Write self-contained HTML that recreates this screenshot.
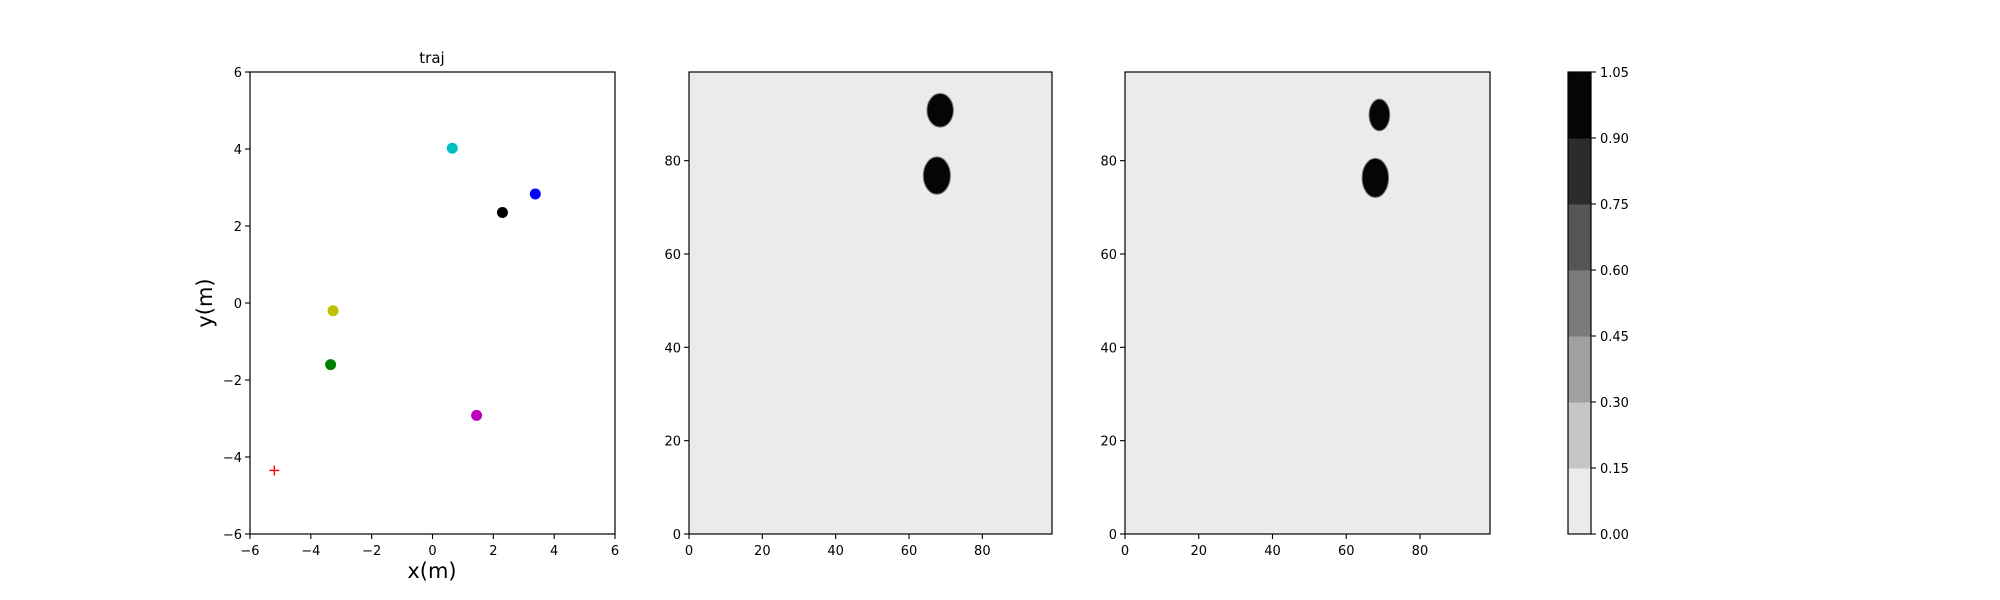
<!DOCTYPE html>
<html><head><meta charset="utf-8"><style>
html,body{margin:0;padding:0;background:#fff;}
svg{display:block;font-family:"DejaVu Sans","Liberation Sans",sans-serif;}
</style></head><body>
<svg id="fig" width="2000" height="600" viewBox="0 0 2000 600" xmlns="http://www.w3.org/2000/svg"></svg>
<script>
// scatter data
const ptX = [0.65, 3.38, 2.3, -3.27, -3.35, 1.45];
const ptY = [4.02, 2.83, 2.35, -0.2, -1.6, -2.92];
const ptColors = ['#00bfbf','#0000ff','#000000','#bfbf00','#008000','#bf00bf'];
const ptNames = ['point-cyan','point-blue','point-black','point-yellow','point-green','point-magenta'];
const targetX = [-5.2];
const targetY = [-4.35];
const trajTicks = [-6,-4,-2,0,2,4,6];
// heatmap blob data (grid units)
const blob2X = [68.5, 67.6];
const blob2Y = [90.8, 76.8];
const blob2RX = [3.6, 3.7];
const blob2RY = [3.6, 4.0];
const blob3X = [69.0, 67.9];
const blob3Y = [89.8, 76.3];
const blob3RX = [2.8, 3.6];
const blob3RY = [3.4, 4.2];
const heatTicks = [0,20,40,60,80];
// colorbar
const cbLevels = [0,0.15,0.30,0.45,0.60,0.75,0.90,1.05];
const cbColors = ['#ebebeb','#c6c6c6','#a0a0a0','#7a7a7a','#555555','#2c2c2c','#050505'];

const NS='http://www.w3.org/2000/svg';
const svg=document.getElementById('fig');
function mk(tag,attrs,parent){const e=document.createElementNS(NS,tag);for(const k in attrs)e.setAttribute(k,attrs[k]);(parent||svg).appendChild(e);return e;}
function txt(s,attrs,parent){const e=mk('text',attrs,parent);e.textContent=s;return e;}
function fmt(v){return v<0?'\u2212'+(-v):String(v);}

const axTop=72,axBot=534;
function axes(name,x0,x1,xmin,xmax,ymin,ymax,xt,yt){
  const g=mk('g',{});
  
  
  const sx=v=>x0+(v-xmin)/(xmax-xmin)*(x1-x0);
  const sy=v=>axBot-(v-ymin)/(ymax-ymin)*(axBot-axTop);
  return {g,sx,sy,x0,x1,xt,yt};
}
function frame(a){
  const r=mk('rect',{x:a.x0,y:axTop,width:a.x1-a.x0,height:axBot-axTop,fill:'none',stroke:'#000','stroke-width':1.2},a.g);
  
  
  a.xt.forEach(v=>{const x=a.sx(v);mk('line',{x1:x,x2:x,y1:axBot,y2:axBot+5,stroke:'#000','stroke-width':1.1},a.g);
    const t=txt(fmt(v),{x:x,y:axBot+21,'font-size':13,'text-anchor':'middle',fill:'#000'},a.g);
    
    });
  a.yt.forEach(v=>{const y=a.sy(v);mk('line',{x1:a.x0-5,x2:a.x0,y1:y,y2:y,stroke:'#000','stroke-width':1.1},a.g);
    const t=txt(fmt(v),{x:a.x0-8,y:y+5,'font-size':13,'text-anchor':'end',fill:'#000'},a.g);
    
    });
}

// panel 1
const a1=axes('traj-axes',250,615,-6,6,-6,6,trajTicks,trajTicks);
ptX.forEach((x,i)=>{const c=mk('circle',{cx:a1.sx(x),cy:a1.sy(ptY[i]),r:5.5,fill:ptColors[i]},a1.g);
  
  });
targetX.forEach((x,i)=>{const cx=a1.sx(x),cy=a1.sy(targetY[i]);const p=mk('path',{d:`M${cx-5},${cy}H${cx+5}M${cx},${cy-5}V${cy+5}`,stroke:'#ff0000','stroke-width':1.4},a1.g);
  
  });
frame(a1);
const tt=txt('traj',{x:432,y:63,'font-size':15,'text-anchor':'middle'},a1.g);


const xl=txt('x(m)',{x:432,y:578,'font-size':21,'text-anchor':'middle'},a1.g);


const yl=txt('y(m)',{x:0,y:0,'font-size':21,'text-anchor':'middle',transform:'translate(212,303) rotate(-90)'},a1.g);



// heatmap panels
function heat(name,x0,x1,bx,by,brx,bry){
  const a=axes(name,x0,x1,0,99,0,99,heatTicks,heatTicks);
  const bg=mk('rect',{x:x0,y:axTop,width:x1-x0,height:axBot-axTop,fill:cbColors[0]},a.g);
  
  
  const kx=(x1-x0)/99,ky=(axBot-axTop)/99;
  bx.forEach((x,i)=>{const e=mk('ellipse',{cx:a.sx(x),cy:a.sy(by[i]),rx:brx[i]*kx,ry:bry[i]*ky,fill:'#050505',stroke:'#777','stroke-width':1},a.g);
    
    });
  frame(a);
}
heat('heatmap-2',689,1052,blob2X,blob2Y,blob2RX,blob2RY);
heat('heatmap-3',1125,1490,blob3X,blob3Y,blob3RX,blob3RY);

// colorbar
const cb=mk('g',{});


const cx0=1568,cx1=1591,cmax=cbLevels[cbLevels.length-1];
const cyf=v=>axBot-v/cmax*(axBot-axTop);
cbColors.forEach((c,i)=>{const r=mk('rect',{x:cx0,y:cyf(cbLevels[i+1]),width:cx1-cx0,height:cyf(cbLevels[i])-cyf(cbLevels[i+1])+0.5,fill:c},cb);
  
  });
mk('rect',{x:cx0,y:axTop,width:cx1-cx0,height:axBot-axTop,fill:'none',stroke:'#000','stroke-width':1.2},cb);
cbLevels.forEach(v=>{const y=cyf(v);mk('line',{x1:cx1,x2:cx1+5,y1:y,y2:y,stroke:'#000','stroke-width':1.1},cb);
  const t=txt(v.toFixed(2),{x:cx1+9,y:y+5,'font-size':13},cb);
  
  });
</script>
</body></html>
